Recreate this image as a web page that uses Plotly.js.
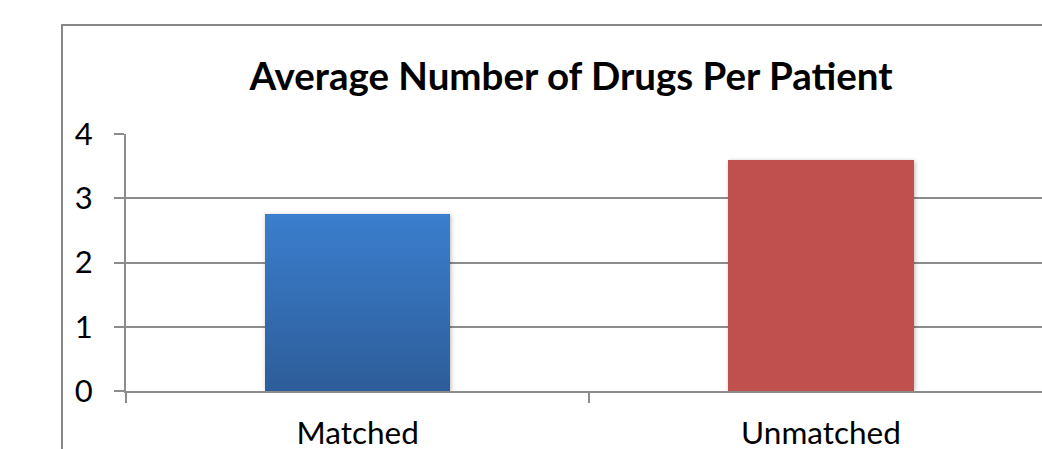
<!DOCTYPE html>
<html>
<head>
<meta charset="utf-8">
<script src="https://cdn.plot.ly/plotly-3.0.1.min.js"></script>
<style>
  html, body { margin: 0; padding: 0; background: #fff; }
  #chart { width: 1042px; height: 449px; }
  .barlayer .point path { filter: drop-shadow(1px 1px 2px rgba(0,0,0,0.28)); }
</style>
</head>
<body>
<div id="chart"></div>
<script>
// Average drug counts per patient group
const categories = ['Matched', 'Unmatched'];
const avgDrugs = [2.76, 3.60];
const barColors = ['#3570B8', '#C0504D'];
const yTicks = [0, 1, 2, 3, 4];

const FONT = 'Lato, "Open Sans", sans-serif';
const GRID = '#8c8c8c';

// plot-area geometry in pixels
const W = 1042, H = 449;
const M = { l: 126, r: 0, t: 134, b: 58 };
const plotW = W - M.l - M.r, plotH = H - M.t - M.b;
const px2paperX = x => (x - M.l) / plotW;
const px2paperY = y => (H - M.b - y) / plotH;

const trace = {
  type: 'bar',
  x: categories,
  y: avgDrugs,
  width: 0.4,
  marker: { color: barColors, line: { width: 0 } },
  hoverinfo: 'x+y'
};

const layout = {
  width: W, height: H,
  margin: M,
  paper_bgcolor: '#fff',
  plot_bgcolor: '#fff',
  showlegend: false,
  font: { family: FONT, color: '#000' },
  title: {
    text: '<b>Average Number of Drugs Per Patient</b>',
    font: { family: FONT, size: 38.5, color: '#000' },
    x: px2paperX(571), xanchor: 'center', xref: 'paper',
    y: 0.83, yanchor: 'middle', yref: 'container'
  },
  xaxis: {
    type: 'category',
    range: [-0.5, 1.477],
    tickson: 'boundaries',
    ticks: 'outside', ticklen: 10, tickwidth: 2, tickcolor: GRID,
    showgrid: false,
    showline: true, linecolor: GRID, linewidth: 2,
    tickfont: { family: FONT, size: 31.5, color: '#000' },
    ticklabelstandoff: 13,
    zeroline: false,
    fixedrange: true
  },
  yaxis: {
    range: [0, 4],
    tickvals: yTicks,
    ticktext: yTicks.map(String),
    ticks: 'outside', ticklen: 10, tickwidth: 2, tickcolor: GRID,
    showgrid: true, gridcolor: GRID, gridwidth: 2,
    showline: true, linecolor: GRID, linewidth: 2,
    zeroline: false,
    tickfont: { family: FONT, size: 31, color: '#000' },
    ticklabelstandoff: 15,
    fixedrange: true
  },
  bargap: 0,
  shapes: [{
    type: 'rect', xref: 'paper', yref: 'paper',
    x0: px2paperX(62), x1: px2paperX(1100),
    y0: px2paperY(520), y1: px2paperY(25),
    line: { color: '#888', width: 2 },
    fillcolor: 'rgba(0,0,0,0)',
    layer: 'below'
  }]
};

// vertical gradient on the first bar
function applyGradient(gd) {
  const svg = gd.querySelector('.main-svg');
  if (!svg) return;
  let defs = svg.querySelector('defs');
  if (!defs) {
    defs = document.createElementNS('http://www.w3.org/2000/svg', 'defs');
    svg.insertBefore(defs, svg.firstChild);
  }
  if (!svg.querySelector('#matchedGrad')) {
    const g = document.createElementNS('http://www.w3.org/2000/svg', 'linearGradient');
    g.setAttribute('id', 'matchedGrad');
    g.setAttribute('x1', '0'); g.setAttribute('y1', '0');
    g.setAttribute('x2', '0'); g.setAttribute('y2', '1');
    [['0%', '#3B7ECE'], ['100%', '#2D5D99']].forEach(([o, c]) => {
      const s = document.createElementNS('http://www.w3.org/2000/svg', 'stop');
      s.setAttribute('offset', o); s.setAttribute('stop-color', c);
      g.appendChild(s);
    });
    defs.appendChild(g);
  }
  const pts = gd.querySelectorAll('.barlayer .point path');
  if (pts[0]) pts[0].style.fill = 'url(#matchedGrad)';
}

const gd = document.getElementById('chart');
Plotly.newPlot(gd, [trace], layout, { displayModeBar: false, staticPlot: true })
  .then(() => {
    applyGradient(gd);
    gd.on('plotly_afterplot', () => applyGradient(gd));
  });
</script>
</body>
</html>
